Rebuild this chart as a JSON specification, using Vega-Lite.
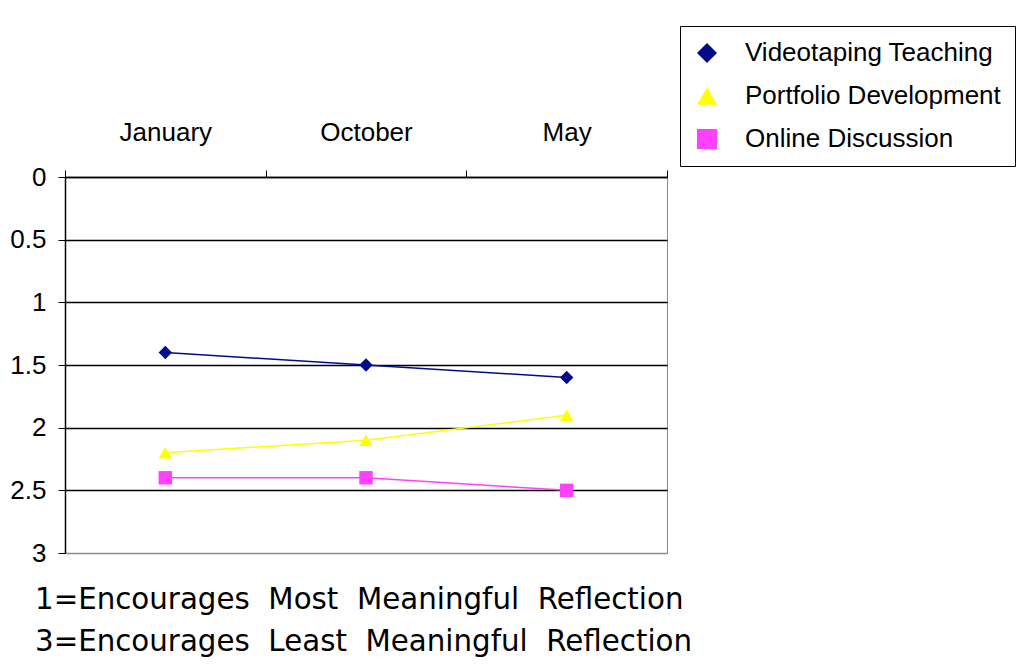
{
  "$schema": "https://vega.github.io/schema/vega-lite/v6.json",
  "width": 602,
  "height": 376,
  "autosize": "none",
  "padding": {"left": 65, "top": 177, "right": 349, "bottom": 113},
  "background": "white",
  "config": {
    "font": "Liberation Sans",
    "view": {"stroke": "#8c8c8c", "strokeWidth": 1}
  },
  "title": {
    "text": ["1=Encourages\u00a0\u00a0Most\u00a0\u00a0Meaningful\u00a0\u00a0Reflection", "3=Encourages\u00a0\u00a0Least\u00a0\u00a0Meaningful\u00a0\u00a0Reflection"],
    "orient": "bottom",
    "anchor": "start",
    "frame": "group",
    "offset": 20,
    "dx": -30,
    "font": "DejaVu Sans",
    "fontSize": 29.3,
    "fontWeight": "normal",
    "lineHeight": 42,
    "color": "black"
  },
  "data": {
    "values": [
      {"month": "January", "series": "Videotaping Teaching", "value": 1.4},
      {"month": "October", "series": "Videotaping Teaching", "value": 1.5},
      {"month": "May", "series": "Videotaping Teaching", "value": 1.6},
      {"month": "January", "series": "Portfolio Development", "value": 2.2},
      {"month": "October", "series": "Portfolio Development", "value": 2.1},
      {"month": "May", "series": "Portfolio Development", "value": 1.9},
      {"month": "January", "series": "Online Discussion", "value": 2.4},
      {"month": "October", "series": "Online Discussion", "value": 2.4},
      {"month": "May", "series": "Online Discussion", "value": 2.5}
    ]
  },
  "encoding": {
    "x": {
      "field": "month",
      "type": "nominal",
      "sort": ["January", "October", "May"],
      "bandPosition": 0.5,
      "scale": {"type": "band", "paddingInner": 0, "paddingOuter": 0},
      "axis": {
        "orient": "top",
        "title": null,
        "labelAngle": 0,
        "labelFontSize": 26,
        "labelColor": "black",
        "labelPadding": 25,
        "tickBand": "extent",
        "tickSize": 7,
        "tickColor": "black",
        "domainColor": "black",
        "domainWidth": 1.5,
        "grid": false
      }
    },
    "y": {
      "field": "value",
      "type": "quantitative",
      "scale": {"domain": [0, 3], "reverse": true, "nice": false},
      "axis": {
        "title": null,
        "values": [0, 0.5, 1, 1.5, 2, 2.5, 3],
        "labelExpr": "'' + datum.value",
        "labelFontSize": 26,
        "labelColor": "black",
        "labelPadding": 12,
        "tickSize": 7,
        "tickColor": "black",
        "domainColor": "black",
        "domainWidth": 1.5,
        "grid": true,
        "gridColor": {"condition": {"test": "datum.value === 3", "value": "#8c8c8c"}, "value": "black"},
        "gridWidth": 1.5,
        "gridOpacity": 1
      }
    },
    "color": {
      "field": "series",
      "type": "nominal",
      "scale": {
        "domain": ["Videotaping Teaching", "Portfolio Development", "Online Discussion"],
        "range": ["#000C8C", "#FFFF00", "#FF40FF"]
      },
      "legend": {
        "title": null,
        "orient": "none",
        "legendX": 615,
        "legendY": -151,
        "strokeColor": "black",
        "padding": 14,
        "labelFontSize": 26,
        "labelColor": "black",
        "labelFont": "Liberation Sans",
        "labelLimit": 500,
        "symbolSize": 400,
        "symbolStrokeWidth": 0,
        "rowPadding": 17,
        "labelOffset": 25,
        "symbolOpacity": 1
      }
    },
    "shape": {
      "field": "series",
      "type": "nominal",
      "scale": {
        "domain": ["Videotaping Teaching", "Portfolio Development", "Online Discussion"],
        "range": ["diamond", "triangle-up", "square"]
      },
      "legend": null
    }
  },
  "layer": [
    {"mark": {"type": "line", "strokeWidth": 1.5}},
    {"mark": {"type": "point", "filled": true, "size": 180, "opacity": 1}}
  ]
}
